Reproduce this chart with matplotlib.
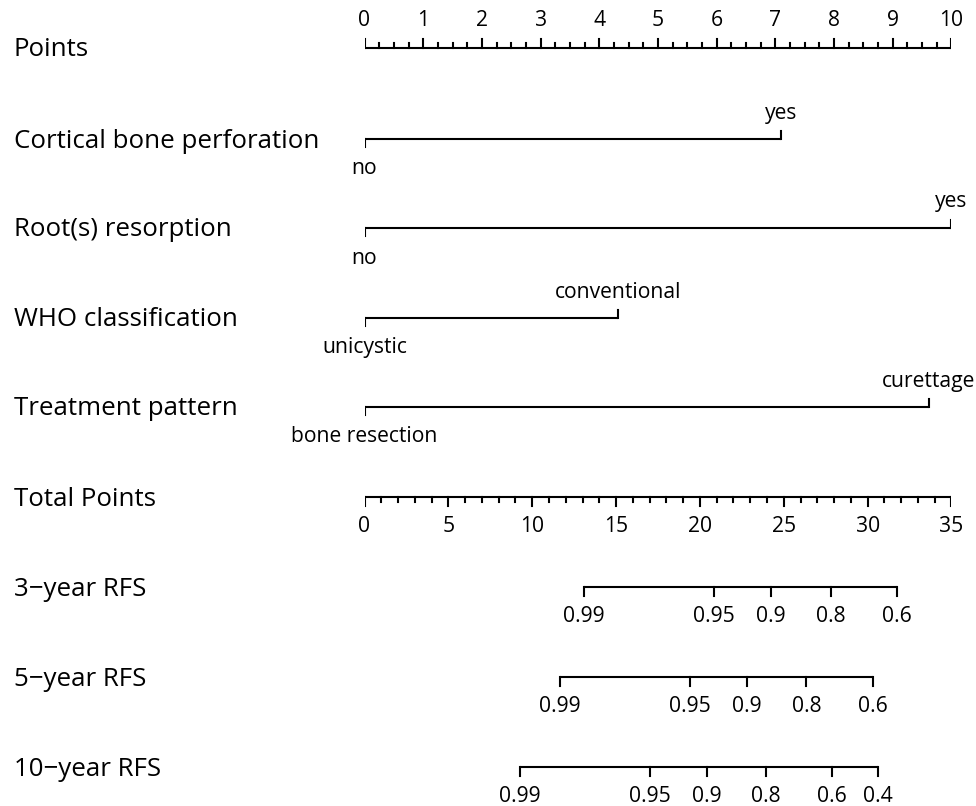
import matplotlib
matplotlib.use('Agg')
from matplotlib import pyplot as plt
import numpy as np

plt.rcParams['font.family'] = ['Open Sans', 'DejaVu Sans']

# 变量名称（左侧标签）
row_labels = ['Points', 'Cortical bone perforation', 'Root(s) resorption',
              'WHO classification', 'Treatment pattern', 'Total Points',
              '3\u2212year RFS', '5\u2212year RFS', '10\u2212year RFS']

# 各分类变量的水平及对应得分 (0-10 points)
cortical_levels = ['no', 'yes']
cortical_points = [0, 7.10]
root_levels = ['no', 'yes']
root_points = [0, 10.0]
who_levels = ['unicystic', 'conventional']
who_points = [0, 4.32]
treat_levels = ['bone resection', 'curettage']
treat_points = [0, 9.61]

# 生存概率刻度对应的总分
rfs3_labels = ['0.99', '0.95', '0.9', '0.8', '0.6']
rfs3_total = [13.1, 20.85, 24.25, 27.8, 31.75]
rfs5_labels = ['0.99', '0.95', '0.9', '0.8', '0.6']
rfs5_total = [11.65, 19.4, 22.8, 26.35, 30.3]
rfs10_labels = ['0.99', '0.95', '0.9', '0.8', '0.6', '0.4']
rfs10_total = [9.25, 17.0, 20.4, 23.95, 27.85, 30.6]

points_max = 10
total_max = 35

W, H = 976, 806
fig = plt.figure(figsize=(W / 100, H / 100), dpi=100)
left_px, right_px = 364.5, 951.5
pos = [left_px / W, 0, (right_px - left_px) / W, 1]

# 上半部分：points 坐标；下半部分：total points 坐标
ax = fig.add_axes(pos)
ax.set_xlim(0, points_max)
ax.set_ylim(H, 0)
ax.axis('off')
ax2 = fig.add_axes(pos)
ax2.set_xlim(0, total_max)
ax2.set_ylim(H, 0)
ax2.axis('off')

row_y = [48, 139, 228, 318, 407, 497, 587, 677, 767]
lw = 1.5
label_fs = 18.6
tick_fs = 15.2

for y, lab in zip(row_y, row_labels):
    fig.text(14 / W, 1 - (y + 2) / H, lab, fontsize=label_fs, va='center', ha='left')

# Points 轴
y0 = row_y[0]
ax.plot([0, points_max], [y0, y0], color='black', lw=lw, solid_capstyle='butt')
for v in np.arange(0, points_max + 0.001, 0.25):
    major = abs(v - round(v)) < 1e-6
    ax.plot([v, v], [y0, y0 - (9 if major else 5)], color='black', lw=lw)
for v in range(0, points_max + 1):
    ax.text(v, y0 - 28, str(v), fontsize=tick_fs, ha='center', va='center')

# 分类变量
cat_rows = [(cortical_levels, cortical_points), (root_levels, root_points),
            (who_levels, who_points), (treat_levels, treat_points)]
for (levels, pts), y in zip(cat_rows, row_y[1:5]):
    ax.plot([min(pts), max(pts)], [y, y], color='black', lw=lw, solid_capstyle='butt')
    for i, (lv, p) in enumerate(zip(levels, pts)):
        if i % 2 == 0:
            ax.plot([p, p], [y, y + 8], color='black', lw=lw)
            ax.text(p, y + 30, lv, fontsize=tick_fs, ha='center', va='center')
        else:
            ax.plot([p, p], [y, y - 8], color='black', lw=lw)
            ax.text(p, y - 26, lv, fontsize=tick_fs, ha='center', va='center')

# Total Points 轴
yt = row_y[5]
ax2.plot([0, total_max], [yt, yt], color='black', lw=lw, solid_capstyle='butt')
for v in range(0, total_max + 1):
    major = v % 5 == 0
    ax2.plot([v, v], [yt, yt + (9 if major else 5)], color='black', lw=lw)
for v in range(0, total_max + 1, 5):
    ax2.text(v, yt + 30, str(v), fontsize=tick_fs, ha='center', va='center')

# RFS 轴
for (labs, tot), y in zip([(rfs3_labels, rfs3_total), (rfs5_labels, rfs5_total),
                           (rfs10_labels, rfs10_total)], row_y[6:]):
    ax2.plot([min(tot), max(tot)], [y, y], color='black', lw=lw, solid_capstyle='butt')
    for lab, t in zip(labs, tot):
        ax2.plot([t, t], [y, y + 9], color='black', lw=lw)
        ax2.text(t, y + 30, lab, fontsize=tick_fs, ha='center', va='center')

plt.savefig('out.png', dpi=100)
